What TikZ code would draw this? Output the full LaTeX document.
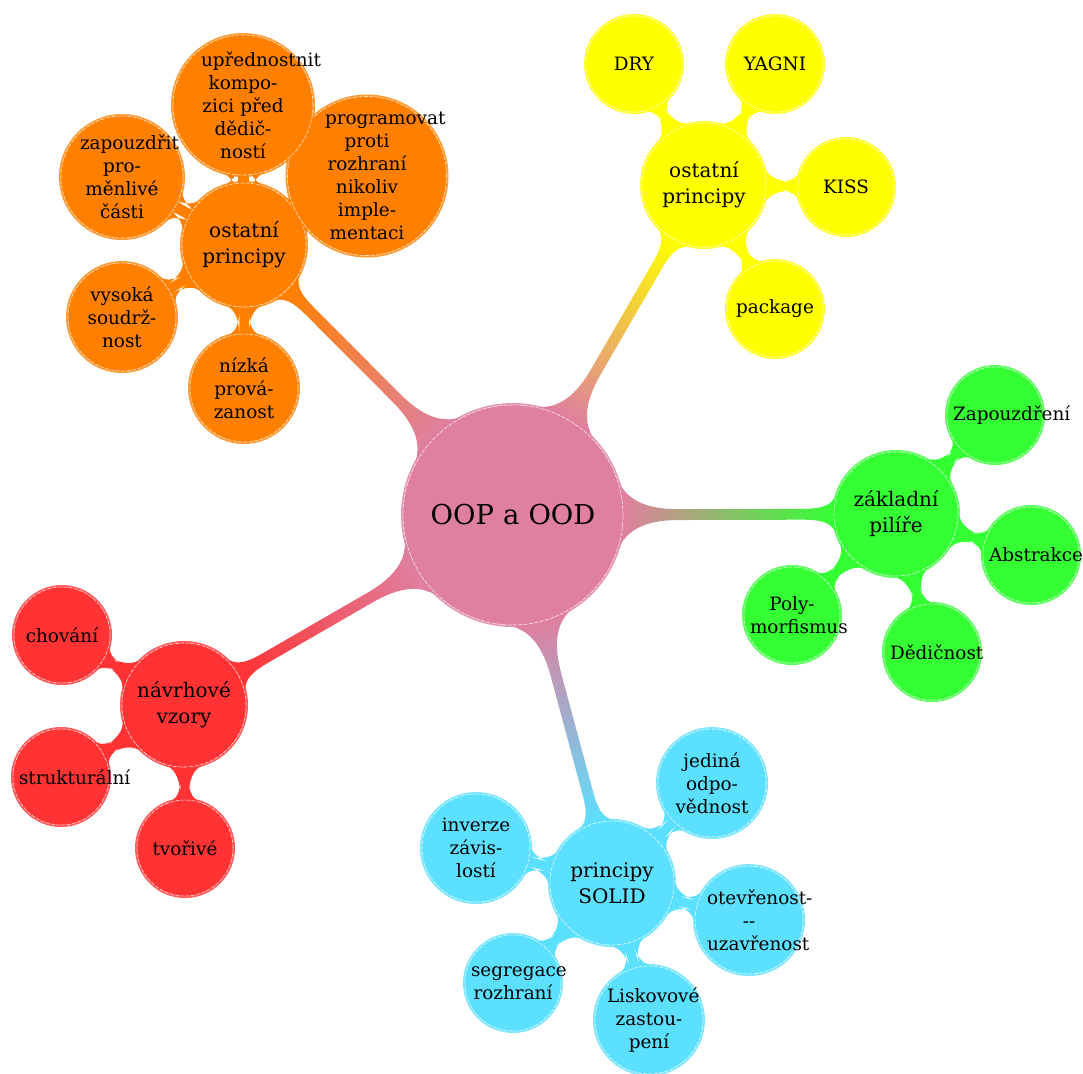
\documentclass[tikz,border=0pt]{standalone}
\usepackage{fontspec}
\setmainfont{DejaVu Serif}
\usetikzlibrary{mindmap,backgrounds}
\hyphenpenalty=10000
\exhyphenpenalty=10000

\colorlet{cRoot}{purple!50}
\definecolor{cOrange}{rgb}{1,0.5,0}
\definecolor{cYellow}{rgb}{1,1,0}
\definecolor{cGreen}{rgb}{0.2,1,0.2}
\definecolor{cRed}{rgb}{1,0.2,0.2}
\definecolor{cCyan}{RGB}{92,224,255}

\tikzset{
  bubble/.style={circle, inner sep=0pt, align=center, text=black,
    fill=#1, draw=white, draw opacity=0.8, line width=0.3pt,
    dash pattern=on 2pt off 0.7pt,
    preaction={draw=#1, line width=2pt, solid}},
  rootbubble/.style={bubble=cRoot, minimum size=110pt, text width=100pt,
    font=\fontsize{13.7}{16}\selectfont},
  mainbubble/.style={bubble=#1, minimum size=62pt, text width=50pt,
    font=\fontsize{10}{13}\selectfont},
  leafbubble/.style={bubble=#1, minimum size=48pt, text width=42pt,
    font=\fontsize{9.2}{11.5}\selectfont},
  trunk/.style={decoration={amplitude=7.5pt}},
  twig/.style={decoration={amplitude=4pt}},
}

\begin{document}
\begin{tikzpicture}[x=0.5pt, y=-0.5pt]
\useasboundingbox (0,0) rectangle (1083,1073);

% central concept
\node[rootbubble] (root) at (513,515) {OOP a OOD};

% first level
\node[mainbubble=cOrange] (o) at (244,245) {ostatní\\principy};
\node[mainbubble=cYellow] (y) at (704,185) {ostatní\\principy};
\node[mainbubble=cGreen]  (g) at (896,514) {základní\\pilíře};
\node[mainbubble=cCyan]   (c) at (612,883) {principy\\SOLID};
\node[mainbubble=cRed]    (r) at (184,705) {návrhové\\vzory};

% orange leaves
\node[leafbubble=cOrange, minimum size=79.5pt] (oB) at (367,176)
  {programovat\\proti\\rozhraní\\nikoliv\\imple-\\mentaci};
\node[leafbubble=cOrange, minimum size=70pt] (oA) at (243,105)
  {upřednostnit\\kompo-\\zici~před\\dědič-\\ností};
\node[leafbubble=cOrange, minimum size=61pt] (oC) at (122,177)
  {zapouzdřit\\pro-\\měnlivé\\části};
\node[leafbubble=cOrange, minimum size=54pt] (oD) at (122,317)
  {vysoká\\soudrž-\\nost};
\node[leafbubble=cOrange, minimum size=54pt] (oE) at (244,388)
  {nízká\\prová-\\zanost};

% yellow leaves
\node[leafbubble=cYellow] (yA) at (634,64) {DRY};
\node[leafbubble=cYellow] (yB) at (775,64) {YAGNI};
\node[leafbubble=cYellow] (yC) at (846,187) {KISS};
\node[leafbubble=cYellow] (yD) at (775,309) {package};

% green leaves
\node[leafbubble=cGreen] (gA) at (995,415) {Zapouzdření};
\node[leafbubble=cGreen] (gB) at (1031,555) {Abstrakce};
\node[leafbubble=cGreen] (gC) at (932,652) {Dědičnost};
\node[leafbubble=cGreen] (gD) at (792,615) {Poly-\\morfismus};

% cyan leaves
\node[leafbubble=cCyan, minimum size=54pt] (cA) at (712,783) {jediná\\odpo-\\vědnost};
\node[leafbubble=cCyan, minimum size=54pt] (cB) at (749,920) {otevřenost-\\{-}{-}\\uzavřenost};
\node[leafbubble=cCyan, minimum size=54pt] (cC) at (649,1020) {Liskovové\\zastou-\\pení};
\node[leafbubble=cCyan] (cD) at (513,983) {segregace\\rozhraní};
\node[leafbubble=cCyan, minimum size=54pt] (cE) at (476,848) {inverze\\závis-\\lostí};

% red leaves
\node[leafbubble=cRed] (rA) at (62,635) {chování};
\node[leafbubble=cRed] (rB) at (61,777) {strukturální};
\node[leafbubble=cRed] (rC) at (185,848) {tvořivé};

% connection bars behind the concepts
\begin{scope}[on background layer]
  \fill[white] (0,0) rectangle (1083,1073);
  \path (root) to[circle connection bar switch color=from (cRoot) to (cOrange), trunk] (o);
  \path (root) to[circle connection bar switch color=from (cRoot) to (cYellow), trunk] (y);
  \path (root) to[circle connection bar switch color=from (cRoot) to (cGreen), trunk] (g);
  \path (root) to[circle connection bar switch color=from (cRoot) to (cCyan), trunk] (c);
  \path (root) to[circle connection bar switch color=from (cRoot) to (cRed), trunk] (r);
  \foreach \leaf in {oA,oB,oC,oD,oE}
    \path (o) to[circle connection bar switch color=from (cOrange) to (cOrange), twig] (\leaf);
  \foreach \leaf in {yA,yB,yC,yD}
    \path (y) to[circle connection bar switch color=from (cYellow) to (cYellow), twig] (\leaf);
  \foreach \leaf in {gA,gB,gC,gD}
    \path (g) to[circle connection bar switch color=from (cGreen) to (cGreen), twig] (\leaf);
  \foreach \leaf in {cA,cB,cC,cD,cE}
    \path (c) to[circle connection bar switch color=from (cCyan) to (cCyan), twig] (\leaf);
  \foreach \leaf in {rA,rB,rC}
    \path (r) to[circle connection bar switch color=from (cRed) to (cRed), twig] (\leaf);
\end{scope}
\end{tikzpicture}
\end{document}
